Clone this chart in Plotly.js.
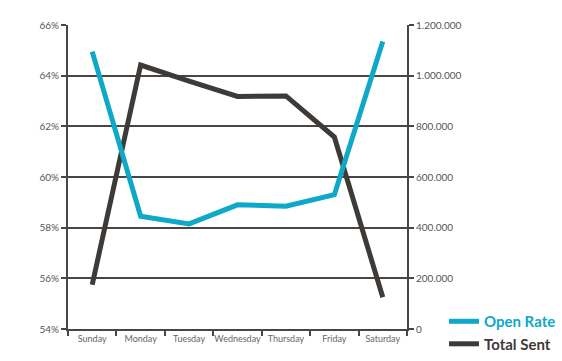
<!DOCTYPE html>
<html>
<head>
<meta charset="utf-8">
<script src="https://cdn.plot.ly/plotly-3.0.1.min.js"></script>
<style>html,body{margin:0;padding:0;background:#fff;}#chart{width:562px;height:361px;}</style>
</head>
<body>
<div id="chart"></div>
<script>
const days = ["Sunday","Monday","Tuesday","Wednesday","Thursday","Friday","Saturday"];
const openRate = [64.95, 58.45, 58.15, 58.9, 58.85, 59.3, 65.35];
const totalSent = [175000, 1042000, 978000, 918000, 920000, 758000, 125000];
const leftTicks = [54, 56, 58, 60, 62, 64, 66];
const leftTickText = ["54%", "56%", "58%", "60%", "62%", "64%", "66%"];
const rightTicks = [0, 200000, 400000, 600000, 800000, 1000000, 1200000];

const cyan = "#0ea8c9";
const dark = "#3e3a37";
const axisCol = "#4a4542";

const traces = [
  {
    x: days, y: totalSent, yaxis: "y", type: "scatter", mode: "lines",
    name: '<span style="color:' + dark + '">Total Sent</span>',
    line: {color: dark, width: 5},
    legendrank: 2
  },
  {
    x: days, y: openRate, yaxis: "y2", type: "scatter", mode: "lines",
    name: '<span style="color:' + cyan + '">Open Rate</span>',
    line: {color: cyan, width: 5},
    legendrank: 1
  }
];

const layout = {
  width: 562, height: 361,
  margin: {l: 68, r: 155, t: 25, b: 32},
  paper_bgcolor: "#fff", plot_bgcolor: "#fff",
  separators: ",.",
  font: {family: "Lato, 'Open Sans', sans-serif", color: "#555"},
  showlegend: true,
  legend: {
    xref: "container", yref: "container",
    x: 0.79, y: 0.155, xanchor: "left", yanchor: "top",
    font: {size: 15, family: "Lato, sans-serif", weight: "bold"},
    itemwidth: 30, tracegroupgap: 0, bgcolor: "rgba(0,0,0,0)"
  },
  xaxis: {
    type: "category", categoryarray: days, range: [-0.5, 6.5],
    showline: true, linecolor: axisCol, linewidth: 2,
    ticks: "outside", tickson: "boundaries", ticklen: 5, tickwidth: 2, tickcolor: axisCol,
    showgrid: false, zeroline: false, tickangle: 0, automargin: false,
    tickfont: {size: 9, color: "#666", family: "Lato, sans-serif"},
    fixedrange: true
  },
  yaxis: {
    side: "right", range: [0, 1200000], tickmode: "array", tickvals: rightTicks, tickformat: ",d",
    showline: true, linecolor: axisCol, linewidth: 2,
    ticks: "outside", ticklen: 5, tickwidth: 2, tickcolor: axisCol,
    showgrid: true, gridcolor: axisCol, gridwidth: 2, zeroline: false, automargin: false,
    tickfont: {size: 10, color: "#555"}
  },
  yaxis2: {
    side: "left", overlaying: "y", range: [54, 66], tickmode: "array",
    tickvals: leftTicks, ticktext: leftTickText,
    showline: true, linecolor: axisCol, linewidth: 2,
    ticks: "outside", ticklen: 5, tickwidth: 2, tickcolor: axisCol,
    showgrid: false, zeroline: false, automargin: false,
    tickfont: {size: 10, color: "#555"}
  }
};

Plotly.newPlot("chart", traces, layout, {staticPlot: true, displayModeBar: false});
</script>
</body>
</html>
